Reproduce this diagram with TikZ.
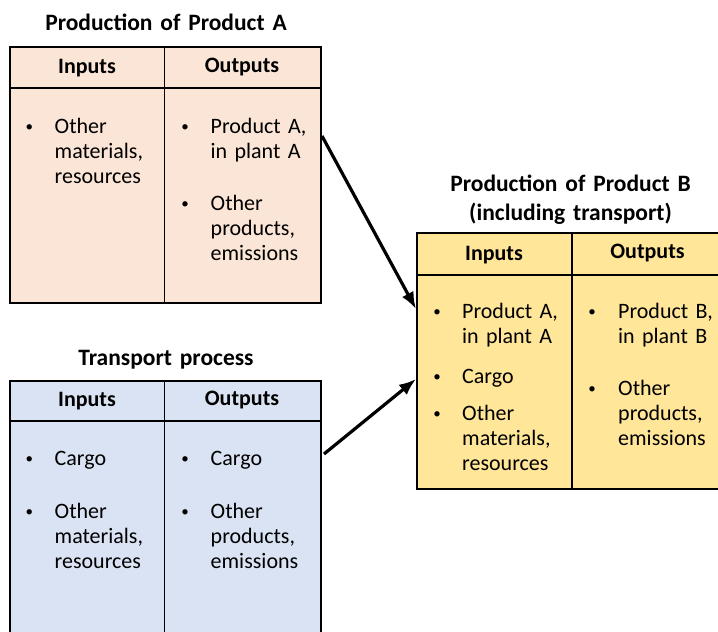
\documentclass[tikz,border=0pt]{standalone}
\usepackage{fontspec}
\setmainfont{Carlito}
\usetikzlibrary{arrows.meta}
\definecolor{peach}{HTML}{FBE5D6}
\definecolor{lblue}{HTML}{DAE3F3}
\definecolor{gold}{HTML}{FFE699}
\begin{document}
\begin{tikzpicture}[x=1pt,y=-1pt,
  body/.style={font=\fontsize{22}{25.3}\selectfont, inner sep=0pt, anchor=base west, align=left, text width=110pt},
  bul/.style={font=\fontsize{15}{15}\selectfont, inner sep=0pt, anchor=base},
  head/.style={font=\bfseries\fontsize{22}{25}\selectfont, inner sep=0pt, anchor=base},
  ttl/.style={font=\bfseries\fontsize{23.5}{28.5}\selectfont, inner sep=0pt, anchor=base, align=center, text width=300pt},
  panel/.style={draw=black, line width=2pt, inner sep=0pt},
  divider/.style={line width=1.2pt},
  flow/.style={line width=3.2pt, -{Latex[length=17pt,width=13pt]}}
]
\useasboundingbox (0,0) rectangle (718,632);

% Production of Product A
\node[panel, fill=peach, minimum width=311pt, minimum height=256pt] (A) at (165.5,174.5) {};
\draw[divider] ([yshift=-42.5pt]A.north west) -- ([yshift=-42.5pt]A.north east);
\draw[divider] ([xshift=155.5pt]A.north west) -- ([xshift=155.5pt]A.south west);
\node[ttl] (Atitle) at (166,30) {Production of Product A};
\node[head] (Ain) at (87,73.5) {Inputs};
\node[head] (Aout) at (242,72) {Outputs};
\node[bul] (Ab1) at (29.3,131.5) {•};
\node[body] (Ai1) at (54.5,133) {Other\\materials,\\resources};
\node[bul] (Ab2) at (185,131.5) {•};
\node[body] (Ao1) at (210.5,133) {Product A,\\in plant A};
\node[bul] (Ab3) at (185,208.5) {•};
\node[body] (Ao2) at (210.5,210) {Other\\products,\\emissions};

% Transport process
\node[panel, fill=lblue, minimum width=311pt, minimum height=279pt] (T) at (165.5,520.5) {};
\draw[divider] ([yshift=-41pt]T.north west) -- ([yshift=-41pt]T.north east);
\draw[divider] ([xshift=155.5pt]T.north west) -- ([xshift=155.5pt]T.south west);
\node[ttl] (Ttitle) at (166,365) {Transport process};
\node[head] (Tin) at (87,406.5) {Inputs};
\node[head] (Tout) at (242,405) {Outputs};
\node[bul] (Tb1) at (29.3,463.5) {•};
\node[body] (Ti1) at (54.5,465) {Cargo};
\node[bul] (Tb2) at (29.3,516.5) {•};
\node[body] (Ti2) at (54.5,518) {Other\\materials,\\resources};
\node[bul] (Tb3) at (185,463.5) {•};
\node[body] (To1) at (210.5,465) {Cargo};
\node[bul] (Tb4) at (185,516.5) {•};
\node[body] (To2) at (210.5,518) {Other\\products,\\emissions};

% Production of Product B
\node[panel, fill=gold, minimum width=305pt, minimum height=256pt] (B) at (569.5,361) {};
\draw[divider] ([yshift=-43pt]B.north west) -- ([yshift=-43pt]B.north east);
\draw[divider] ([xshift=156pt]B.north west) -- ([xshift=156pt]B.south west);
\node[ttl] (Btitle) at (570.5,191.7) {Production of Product B\\(including transport)};
\node[head] (Bin) at (494,260) {Inputs};
\node[head] (Bout) at (647.5,258) {Outputs};
\node[bul] (Bb1) at (437,316.5) {•};
\node[body] (Bi1) at (462,318) {Product A,\\in plant A};
\node[bul] (Bb2) at (437,381.5) {•};
\node[body] (Bi2) at (462,383) {Cargo};
\node[bul] (Bb3) at (437,418.5) {•};
\node[body] (Bi3) at (462,420) {Other\\materials,\\resources};
\node[bul] (Bb4) at (592,316.5) {•};
\node[body] (Bo1) at (618,318) {Product B,\\in plant B};
\node[bul] (Bb5) at (592,393.5) {•};
\node[body] (Bo2) at (618,395) {Other\\products,\\emissions};

% Flows
\draw[flow] ([yshift=-90.5pt]A.north east) -- ([yshift=-77pt]B.north west);
\draw[flow] ([xshift=2pt,yshift=-74pt]T.north east) -- ([yshift=-147pt]B.north west);
\end{tikzpicture}
\end{document}
